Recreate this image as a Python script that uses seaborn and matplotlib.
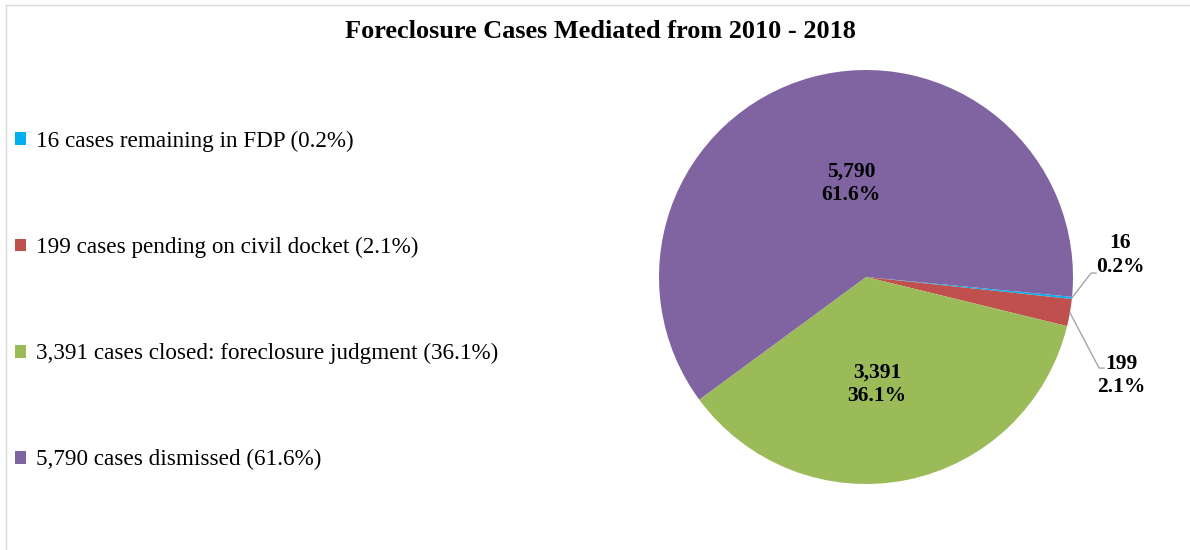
import matplotlib
matplotlib.use("Agg")
import matplotlib.pyplot as plt
import numpy as np
import seaborn as sns
from matplotlib.lines import Line2D

# ── data ──────────────────────────────────────────────────────────────────────
categories = ["cases remaining in FDP", "cases pending on civil docket",
              "cases closed: foreclosure judgment", "cases dismissed"]
counts = [16, 199, 3391, 5790]
percents = [0.2, 2.1, 36.1, 61.6]
colors = ["#00B0F0", "#C0504D", "#9BBB59", "#8064A2"]
title = "Foreclosure Cases Mediated from 2010 - 2018"

# ── layout (pixels / axis units) ─────────────────────────────────────────────
W, H = 1190, 550
cx, cy, r = 866, 277, 207
label_pos = [(1.227, 0.106), (1.232, -0.476), (0.053, -0.52), (-0.072, 0.454)]
elbows = [(1.087, 0.019), (1.126, -0.440), None, None]

sns.set_theme(style="white")
plt.rcParams["font.family"] = ["Liberation Serif", "DejaVu Serif"]
plt.rcParams["text.color"] = "black"

fig = plt.figure(figsize=(W / 100, H / 100), dpi=100)
ax = fig.add_axes([(cx - r) / W, 1 - (cy + r) / H, 2 * r / W, 2 * r / H])
wedges, _ = ax.pie(counts, colors=colors, startangle=-5.5,
                   counterclock=False, wedgeprops=dict(linewidth=0))
ax.set_xlim(-1, 1)
ax.set_ylim(-1, 1)
ax.set_axis_off()

for w, c, p, pos, elb in zip(wedges, counts, percents, label_pos, elbows):
    ax.text(pos[0], pos[1], f"{c:,}\n{p}%", ha="center", va="center",
            fontsize=15.5, fontweight="bold", linespacing=1.22,
            clip_on=False, color="black")
    if elb is not None:
        mid = np.deg2rad((w.theta1 + w.theta2) / 2)
        xs = [np.cos(mid), elb[0], elb[0] + 0.025]
        ys = [np.sin(mid), elb[1], elb[1]]
        ax.plot(xs, ys, color="#A6A6A6", lw=1, clip_on=False)

fig.legend(wedges, [f"{c:,} {n} ({p}%)" for c, n, p in
                    zip(counts, categories, percents)],
           loc="upper left", bbox_to_anchor=(15 / W, 1 - 131 / H),
           frameon=False, fontsize=16.7, handlelength=0.48, handleheight=0.48,
           handletextpad=0.42, labelspacing=3.66, borderaxespad=0,
           borderpad=0, labelcolor="black")

fig.text(600 / W, 1 - 31 / H, title, ha="center", va="center",
         fontsize=18.9, fontweight="bold")

# chart-area border (top and left edges visible)
fig.add_artist(Line2D([6 / W, 6 / W], [0, 1 - 5 / H], color="#D9D9D9", lw=1))
fig.add_artist(Line2D([6 / W, 1], [1 - 5 / H, 1 - 5 / H], color="#D9D9D9", lw=1))

fig.savefig("out.png", dpi=100, facecolor="white")
